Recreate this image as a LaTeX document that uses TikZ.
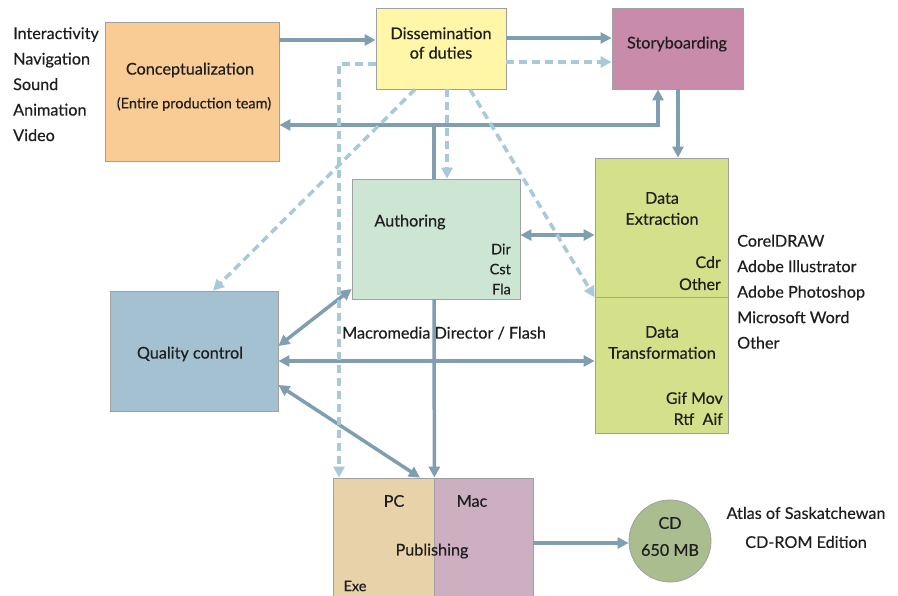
\documentclass[tikz,border=0pt]{standalone}
\usepackage{fontspec}
\setmainfont{Lato}[FakeBold=0.4]
\usetikzlibrary{arrows.meta}
\definecolor{conc}{HTML}{F9CB95}
\definecolor{diss}{HTML}{FFF6A8}
\definecolor{stor}{HTML}{C98BAA}
\definecolor{auth}{HTML}{CDE6D4}
\definecolor{datac}{HTML}{D4E08A}
\definecolor{qual}{HTML}{A3C1D1}
\definecolor{pcc}{HTML}{E8D2AA}
\definecolor{macc}{HTML}{CDAFC2}
\definecolor{cdc}{HTML}{A9BD8E}
\definecolor{arrowc}{HTML}{7F9EB0}
\definecolor{dashc}{HTML}{A7C9DA}
\definecolor{boxline}{HTML}{A0A0A0}
\definecolor{txt}{HTML}{1E1E1E}
\begin{document}
\begin{tikzpicture}[x=1pt,y=-1pt,
  box/.style={draw=boxline, line width=0.8pt, inner sep=0pt, minimum width=#1},
  lbl/.style={inner sep=0pt, font=\fontsize{16.2}{19.5}\selectfont, text=txt},
  small/.style={inner sep=0pt, font=\fontsize{14.5}{20}\selectfont, text=txt},
  sol/.style={draw=arrowc, line width=3.5pt, -{Triangle[length=11pt,width=11pt]}},
  soln/.style={draw=arrowc, line width=3.5pt},
  dsol/.style={draw=arrowc, line width=3.5pt, {Triangle[length=11pt,width=11pt]}-{Triangle[length=11pt,width=11pt]}},
  dsh/.style={draw=dashc, line width=3.5pt, dash pattern=on 8pt off 5pt, -{Triangle[length=11pt,width=11pt]}}
]
\useasboundingbox (0,0) rectangle (898,596);
% boxes
\node[box=174pt, minimum height=139pt, fill=conc] (concept) at (192,91.5) {};
\node[box=130pt, minimum height=81pt, fill=diss] (dissem) at (441,48.5) {};
\node[box=131pt, minimum height=81pt, fill=stor] (story) at (677.5,48.5) {};
\node[box=168pt, minimum height=120pt, fill=auth] (author) at (436,239) {};
\node[box=133pt, minimum height=139pt, fill=datac] (dext) at (661.5,227.5) {};
\node[box=133pt, minimum height=136pt, fill=datac] (dtrans) at (661.5,365) {};
\node[box=168pt, minimum height=120pt, fill=qual] (quality) at (194,351) {};
\node[box=101pt, minimum height=130pt, fill=pcc] (pc) at (383.5,543) {};
\node[box=99pt, minimum height=130pt, fill=macc] (mac) at (483.5,543) {};
\node[draw=boxline, line width=0.8pt, circle, minimum size=82pt, inner sep=0pt, fill=cdc] (cd) at (670,541) {};
% texts
\node[lbl, anchor=north west, align=left, font=\fontsize{16.2}{25.5}\selectfont] (media) at (13,27) {Interactivity\\Navigation\\Sound\\Animation\\Video};
\node[lbl] (tconc) at (190,70) {Conceptualization};
\node[small] (tteam) at (194,104) {(Entire production team)};
\node[lbl, align=center] (tdiss) at (441,43) {Dissemination\\of duties};
\node[lbl] (tstor) at (677,44) {Storyboarding};
\node[lbl] (tauth) at (410,222) {Authoring};
\node[small, anchor=north east, align=right] (tdir) at (511,243.5) {Dir\\Cst\\Fla};
\node[lbl, align=center, font=\fontsize{16.2}{21}\selectfont] (text) at (662,208.5) {Data\\Extraction};
\node[lbl, anchor=north east, align=right, font=\fontsize{16}{22}\selectfont] (tcdr) at (721,256) {Cdr\\Other};
\node[lbl, align=center, font=\fontsize{16.2}{21}\selectfont] (ttrans) at (662,342.5) {Data\\Transformation};
\node[lbl, anchor=north east, align=right, font=\fontsize{16}{21}\selectfont] (tgif) at (723,392) {Gif Mov\\Rtf\ \ Aif};
\node[lbl, anchor=north west, align=left, font=\fontsize{16.2}{25.5}\selectfont] (tsoft) at (737,234.5) {CorelDRAW\\Adobe Illustrator\\Adobe Photoshop\\Microsoft Word\\Other};
\node[lbl] (tqual) at (190,354) {Quality control};
\node[lbl, anchor=west] (tmacro) at (342,333) {Macromedia Director / Flash};
\node[lbl] (tpc) at (394,501) {PC};
\node[lbl] (tmac) at (472,501) {Mac};
\node[lbl] (tpub) at (432,551) {Publishing};
\node[small] (texe) at (355,586) {Exe};
\node[lbl, align=center, font=\fontsize{16.2}{27}\selectfont] (tcd) at (670,536.5) {CD\\650 MB};
\node[lbl, align=center, font=\fontsize{16.2}{29}\selectfont] (tatlas) at (806,527.5) {Atlas of Saskatchewan\\CD-ROM Edition};
% solid connectors
\draw[sol] (concept.east |- 0,40) -- (dissem.west |- 0,40);
\draw[sol] (dissem.east |- 0,38) -- (story.west |- 0,38);
\coordinate (fb) at (434,125);
\draw[soln] (author.north -| fb) -- (fb);
\draw[sol] (fb) -- (concept.east |- fb);
\draw[sol] (fb) -| (story.south -| 658,0);
\draw[sol] (author.south -| fb) -- (pc.north east);
\draw[sol] (story.south -| 678,0) -- (dext.north -| 678,0);
\draw[dsol] (author.east |- 0,235) -- (dext.west |- 0,235);
\draw[dsol] (author.west |- 0,289) -- (quality.east |- 0,346);
\draw[dsol] (quality.east |- 0,361) -- (dtrans.west |- 0,361);
\draw[dsol] (quality.east |- 0,385) -- (pc.north -| 420,0);
\draw[sol] (mac.east |- 0,543) -- (cd.west |- 0,543);
% dashed connectors
\draw[dsh] (dissem.east |- 0,62) -- (story.west |- 0,62);
\draw[dsh] (dissem.south -| 447,0) -- (author.north -| 447,0);
\draw[dsh] (dissem.west |- 0,64) -| (pc.north -| 339,0);
\draw[dsh] (dissem.south -| 415,0) -- (quality.north -| 213,0);
\draw[dsh] (dissem.south -| 470,0) -- (dext.south west);
\end{tikzpicture}
\end{document}
